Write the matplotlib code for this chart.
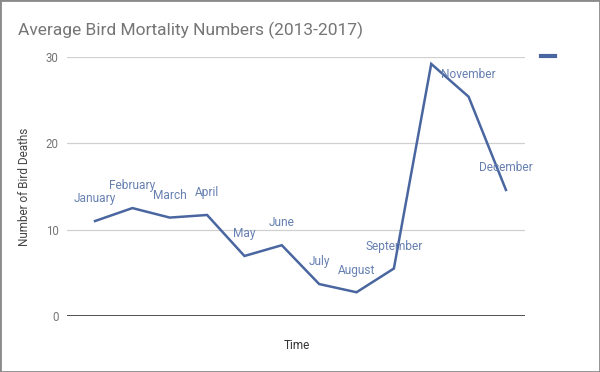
import matplotlib
matplotlib.use("Agg")
import matplotlib.pyplot as plt
from matplotlib.lines import Line2D
from matplotlib.patches import Rectangle

plt.rcParams["font.family"] = ["Roboto", "DejaVu Sans"]

MONTHS = ["January", "February", "March", "April", "May", "June", "July",
          "August", "September", "October", "November", "December"]
DEATHS = [11.0, 12.5, 11.4, 11.7, 6.95, 8.2, 3.7, 2.75, 5.5, 29.2, 25.4, 14.6]
# Google Charts hid the October label (collision with the peak)
SHOW_LABEL = [True] * 9 + [False, True, True]
Y_TICKS = [0, 10, 20, 30]

LINE_C = "#4a66a0"
LABEL_C = "#6680b0"
GRID_C = "#d0d0d0"
TEXT_C = "#757575"

fig = plt.figure(figsize=(6.0, 3.72), dpi=100)
fig.patch.set_facecolor("white")
ax = fig.add_axes([67 / 600, 1 - 316 / 372, (525 - 67) / 600, (316 - 57) / 372])

x = list(range(len(MONTHS)))
line, = ax.plot(x, DEATHS, color=LINE_C, linewidth=1.8, solid_joinstyle="miter", zorder=3)

for xi, v, name, show in zip(x, DEATHS, MONTHS, SHOW_LABEL):
    if show:
        ax.annotate(name, xy=(xi, v), xytext=(0, 16), textcoords="offset points",
                    ha="center", va="center", fontsize=8.6, color=LABEL_C, zorder=4)

ax.set_xlim(-0.75, 11.51)
ax.set_ylim(0, 30)
ax.set_yticks(Y_TICKS)
ax.set_yticklabels([str(t) for t in Y_TICKS])
ax.set_xticks([])
ax.tick_params(axis="y", length=0, pad=6, labelsize=8.3, labelcolor=TEXT_C)
for s in ax.spines.values():
    s.set_visible(False)
ax.grid(axis="y", color=GRID_C, linewidth=0.9, zorder=0)
ax.axhline(0, color="#333333", linewidth=1.2, zorder=2)
ax.set_facecolor("none")

ax.set_ylabel("Number of Bird Deaths", fontsize=8.5, color="#444444")
ax.yaxis.set_label_coords(-(67 - 31) / 458, (316 - 187) / 259)
ax.set_xlabel("Time", fontsize=8.5, color="#333333")
ax.xaxis.set_label_coords((297 - 67) / 458, -(339 - 316) / 259)

leg = ax.legend(handles=[Line2D([], [], color=LINE_C, linewidth=3)], labels=[""],
                loc="center left", bbox_to_anchor=(1.02, 1.0), frameon=False,
                handlelength=1.0, handletextpad=0, borderpad=0)

fig.text(18 / 600, 1 - 30 / 372, "Average Bird Mortality Numbers (2013-2017)",
         fontsize=12.5, color=TEXT_C, ha="left", va="center")

fig.patches.append(Rectangle((0, 0), 1, 1, transform=fig.transFigure, fill=False,
                             edgecolor="#8a8a8a", linewidth=2.0))

fig.savefig("out.png", dpi=100)
